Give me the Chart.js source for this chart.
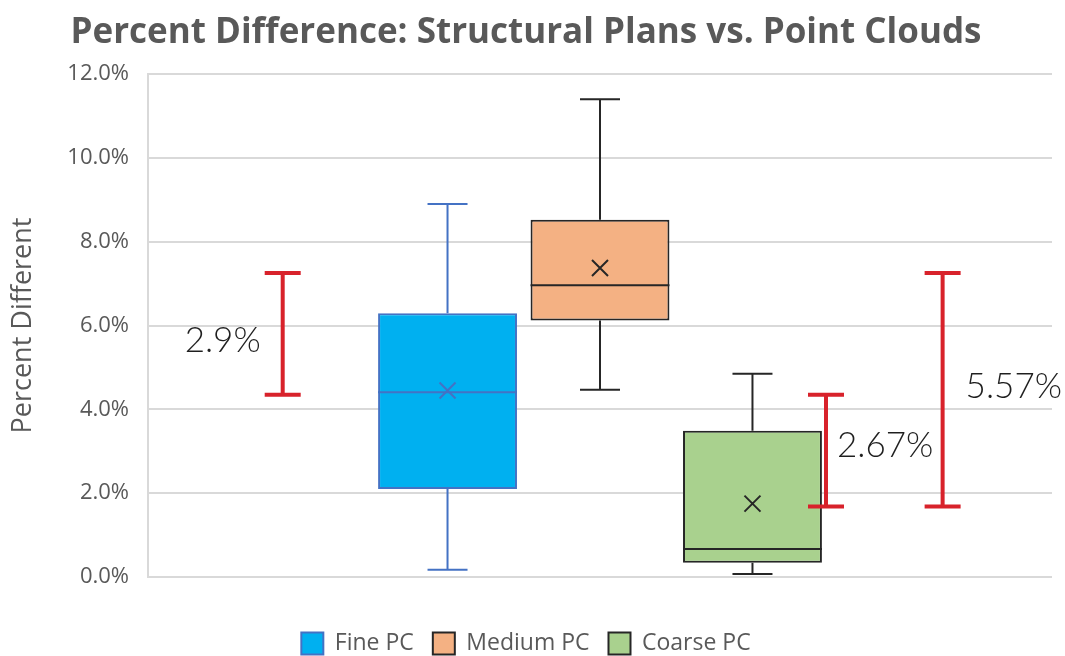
<!DOCTYPE html>
<html>
<head>
<meta charset="utf-8">
<script src="https://cdn.jsdelivr.net/npm/chart.js@4.4.1/dist/chart.umd.min.js"></script>
<style>
  html, body { margin: 0; padding: 0; background: #ffffff; }
  #wrap { width: 1065px; height: 656px; }
</style>
</head>
<body>
<div id="wrap"><canvas id="chart" width="1065" height="656"></canvas></div>
<script>
// Box-plot statistics (percent difference) for each point-cloud resolution
const categories  = ['Fine PC', 'Medium PC', 'Coarse PC'];
const q1          = [2.10, 6.12, 0.34];
const q3          = [6.29, 8.52, 3.49];
const medians     = [4.41, 6.96, 0.67];
const means       = [4.45, 7.37, 1.75];
const whiskerLow  = [0.17, 4.47, 0.07];
const whiskerHigh = [8.90, 11.40, 4.85];

// Y axis ticks (percent)
const yTicks = [0, 2, 4, 6, 8, 10, 12];

// Range brackets with their labels
const bracketLabels = ['2.9%', '2.67%', '5.57%'];
const bracketLow    = [4.35, 1.68, 1.68];
const bracketHigh   = [7.25, 4.35, 7.25];
const bracketPos    = [14.9, 75.0, 87.9];   // position along the hidden 0–100 axis

const fills   = ['#00b0f0', '#f4b183', '#a9d18e'];
const strokes = ['#4472c4', '#262626', '#262626'];
const RED = '#d8222b';

// label placement relative to its bracket: [dx, dy, align]
const labelPlacement = [[-22, 7, 'right'], [11, -5, 'left'], [23, -3, 'left']];

const boxDatasets = categories.map((name, i) => ({
  label: name,
  data: [[q1[i], q3[i]]],
  backgroundColor: fills[i],
  borderColor: strokes[i],
  borderWidth: 2,
  borderSkipped: false,
  categoryPercentage: 0.506,
  barPercentage: 0.911
}));

// Whiskers, medians, means, range brackets and their labels
const boxExtras = {
  id: 'boxExtras',
  afterDatasetsDraw(chart) {
    const ctx = chart.ctx;
    const y = chart.scales.y;
    categories.forEach((name, i) => {
      const bar = chart.getDatasetMeta(i).data[0];
      const cx = bar.x;
      const half = bar.width / 2;
      ctx.save();
      ctx.strokeStyle = strokes[i];
      ctx.lineWidth = 2;
      ctx.lineCap = 'butt';
      const yq1 = y.getPixelForValue(q1[i]);
      const yq3 = y.getPixelForValue(q3[i]);
      const ylo = y.getPixelForValue(whiskerLow[i]);
      const yhi = y.getPixelForValue(whiskerHigh[i]);
      const capHalf = 20;
      ctx.beginPath();
      ctx.moveTo(cx, yq3); ctx.lineTo(cx, yhi);
      ctx.moveTo(cx - capHalf, yhi); ctx.lineTo(cx + capHalf, yhi);
      ctx.moveTo(cx, yq1); ctx.lineTo(cx, ylo);
      ctx.moveTo(cx - capHalf, ylo); ctx.lineTo(cx + capHalf, ylo);
      const ym = y.getPixelForValue(medians[i]);
      ctx.moveTo(cx - half, ym); ctx.lineTo(cx + half, ym);
      ctx.stroke();
      // mean marker
      const yMean = y.getPixelForValue(means[i]);
      const s = 8;
      ctx.beginPath();
      ctx.moveTo(cx - s, yMean - s); ctx.lineTo(cx + s, yMean + s);
      ctx.moveTo(cx - s, yMean + s); ctx.lineTo(cx + s, yMean - s);
      ctx.stroke();
      ctx.restore();
    });

    const xr = chart.scales.xr;
    ctx.save();
    ctx.strokeStyle = RED;
    ctx.lineWidth = 4;
    bracketLabels.forEach((lab, i) => {
      const px = xr.getPixelForValue(bracketPos[i]);
      const yt = y.getPixelForValue(bracketHigh[i]);
      const yb = y.getPixelForValue(bracketLow[i]);
      ctx.beginPath();
      ctx.moveTo(px, yt); ctx.lineTo(px, yb);
      ctx.moveTo(px - 18, yt); ctx.lineTo(px + 18, yt);
      ctx.moveTo(px - 18, yb); ctx.lineTo(px + 18, yb);
      ctx.stroke();
    });
    ctx.fillStyle = '#1f1f1f';
    ctx.font = '300 35px Lato, "Open Sans", sans-serif';
    ctx.textBaseline = 'middle';
    bracketLabels.forEach((lab, i) => {
      const px = xr.getPixelForValue(bracketPos[i]);
      const py = (y.getPixelForValue(bracketLow[i]) + y.getPixelForValue(bracketHigh[i])) / 2;
      const [dx, dy, align] = labelPlacement[i];
      ctx.textAlign = align;
      ctx.fillText(lab, px + dx, py + dy);
    });
    ctx.restore();
  }
};

new Chart(document.getElementById('chart'), {
  type: 'bar',
  data: {
    labels: [''],
    datasets: boxDatasets
  },
  options: {
    responsive: false,
    animation: false,
    layout: { padding: { left: 0, right: 13, top: 0, bottom: -9 } },
    scales: {
      x: {
        type: 'category',
        display: true,
        offset: true,
        ticks: { display: false },
        grid: { display: false, drawTicks: false },
        border: { display: false },
        afterFit(scale) { scale.height = 36; }
      },
      xr: {
        type: 'linear',
        display: false,
        offset: false,
        grid: { offset: false },
        min: 0,
        max: 100
      },
      y: {
        type: 'linear',
        min: 0,
        max: 12,
        afterBuildTicks(scale) { scale.ticks = yTicks.map(v => ({ value: v })); },
        ticks: {
          color: '#595959',
          font: { family: '"Open Sans", sans-serif', size: 22 },
          padding: 19,
          callback: v => v.toFixed(1) + '%'
        },
        grid: { color: '#d9d9d9', lineWidth: 2, drawTicks: false },
        border: { display: true, color: '#d9d9d9', width: 2 },
        title: {
          display: true,
          text: 'Percent Different',
          color: '#595959',
          font: { family: '"Open Sans", sans-serif', size: 27 },
          padding: { top: 7, bottom: 8 }
        },
        afterFit(scale) { scale.width = 148; }
      }
    },
    plugins: {
      title: {
        display: true,
        text: 'Percent Difference: Structural Plans vs. Point Clouds',
        color: '#595959',
        font: { family: '"Open Sans", sans-serif', size: 35, weight: 'bold' },
        padding: { top: 12, bottom: 20 }
      },
      legend: {
        position: 'bottom',
        labels: {
          color: '#595959',
          font: { family: '"Open Sans", sans-serif', size: 23 },
          boxWidth: 22,
          boxHeight: 22,
          padding: 19
        }
      },
      tooltip: { enabled: false }
    }
  },
  plugins: [boxExtras]
});
</script>
</body>
</html>
